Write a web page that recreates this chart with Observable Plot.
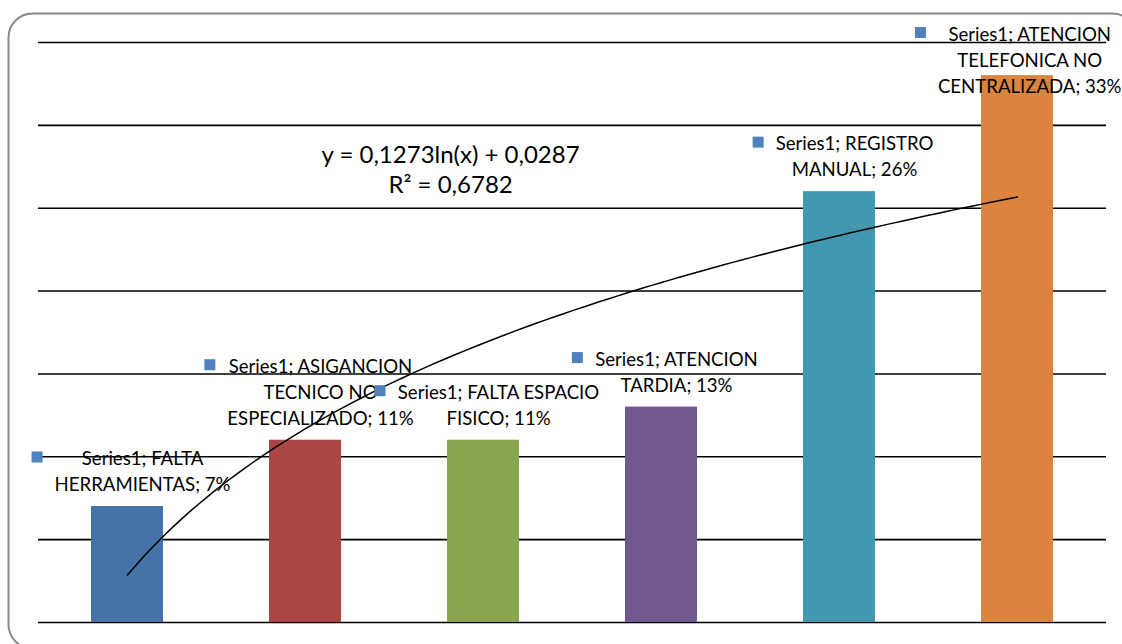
<!DOCTYPE html>
<html>
<head>
<meta charset="utf-8">
<script src="https://cdn.jsdelivr.net/npm/d3@7"></script>
<script src="https://cdn.jsdelivr.net/npm/@observablehq/plot@0.6"></script>
<style>
  html, body { margin: 0; padding: 0; background: #fff; }
  #chart { width: 1122px; height: 644px; overflow: hidden; }
  #chart svg { display: block; }
</style>
</head>
<body>
<div id="chart"></div>
<script>
// ---- data ----
const seriesName = "Series1";
const categories = [
  "FALTA HERRAMIENTAS",
  "ASIGANCION TECNICO NO ESPECIALIZADO",
  "FALTA ESPACIO FISICO",
  "ATENCION TARDIA",
  "REGISTRO MANUAL",
  "ATENCION TELEFONICA NO CENTRALIZADA"
];
const shares = [0.07, 0.11, 0.11, 0.13, 0.26, 0.33];
const gridTicks = [0, 0.05, 0.10, 0.15, 0.20, 0.25, 0.30, 0.35];
// logarithmic trendline fitted over the category index (1..6)
const trendA = 0.1273;
const trendB = 0.0287;
const trendR2 = 0.6782;

// ---- styling ----
const barColors = ["#4572A7", "#AA4643", "#89A54E", "#71588F", "#4198AF", "#DB843D"];
const markerColor = "#4F81BD";
const FONT = "Lato, 'Open Sans', sans-serif";
const LABEL_SIZE = 18.6;
const LABEL_LINE = 26;      // px between label lines
const EQ_SIZE = 24;
const EQ_LINE = 30;

const W = 1122, H = 644;
const M = {top: 42, right: 16, bottom: 22, left: 38};
const halfBar = 0.2022;     // half of the bar width, in category units

const rows = categories.map((name, i) => ({
  i: i + 1,
  name,
  value: shares[i],
  color: barColors[i]
}));

// text measurement for wrapping the data labels
const ctx = document.createElement("canvas").getContext("2d");
ctx.font = `${LABEL_SIZE}px Lato`;
const measure = s => ctx.measureText(s).width;
function wrap(str, maxW) {
  const words = str.split(" ");
  const lines = [];
  let cur = "";
  for (const w of words) {
    const test = cur ? cur + " " + w : w;
    if (cur && measure(test) > maxW) { lines.push(cur); cur = w; }
    else cur = test;
  }
  if (cur) lines.push(cur);
  return lines;
}
const pct = d3.format(".0%");
const labelMaxW = 11.6 * LABEL_SIZE;

const xScale = Plot.scale({x: {domain: [0.5, 6.5], range: [M.left, W - M.right]}});
const yScale = Plot.scale({y: {domain: [0, 0.35], range: [H - M.bottom, M.top]}});
const firstLineMin = 32;    // labels are kept inside the chart area
const rightLimit = W - 1;

const labels = rows.map(d => {
  const lines = wrap(`${seriesName}; ${d.name}; ${pct(d.value)}`, labelMaxW);
  const top = yScale.apply(d.value);
  const lastCenter = top - 23.5;
  let firstCenter = lastCenter - (lines.length - 1) * LABEL_LINE;
  firstCenter += Math.max(0, firstLineMin - firstCenter);
  const blockW = d3.max(lines, measure);
  const cx = xScale.apply(d.i);
  const shiftX = Math.min(15, rightLimit - (cx + blockW / 2));
  return {...d, text: lines.join("\n"), lines, firstCenter, top, blockW, shiftX};
});

// trendline curve sampled along the category index
const trend = d3.range(1, 6.0001, 0.05).map(x => ({x, y: trendA * Math.log(x) + trendB}));
const dec = v => String(v).replace(".", ",");
const eqText = `y = ${dec(trendA)}ln(x) + ${dec(trendB)}\nR² = ${dec(trendR2)}`;

// data labels: a centered block of wrapped lines, nudged right of the bar center
const textMarks = labels.map(d => {
  const n = d.lines.length;
  const dy = (d.firstCenter - d.top) + (n - 1) * LABEL_LINE / 2;
  return Plot.text([d], {
    x: "i", y: "value", text: "text",
    dx: d.shiftX, dy,
    lineAnchor: "middle",
    lineHeight: LABEL_LINE / LABEL_SIZE,
    fontSize: LABEL_SIZE, fill: "#000"
  });
});

// legend key square at the left of each label block, level with its first line
const markerMarks = labels.map(d => Plot.dot([d], {
  x: "i", y: "value",
  dx: d.shiftX - d.blockW / 2 - 12 - 5.5,
  dy: d.firstCenter - d.top,
  symbol: "square", r: 11 / Math.sqrt(Math.PI),
  fill: markerColor, stroke: "none"
}));

const chart = Plot.plot({
  width: W, height: H,
  marginTop: M.top, marginRight: M.right, marginBottom: M.bottom, marginLeft: M.left,
  style: {fontFamily: FONT, background: "#fff", overflow: "hidden"},
  x: {domain: [0.5, 6.5], axis: null},
  y: {domain: [0, 0.35], axis: null},
  marks: [
    Plot.frame({
      rx: 24, stroke: "#8a8a8a", strokeWidth: 2, fill: "none",
      insetLeft: -30, insetTop: -29, insetRight: -30, insetBottom: -26
    }),
    Plot.ruleY(gridTicks, {stroke: "#000", strokeWidth: 1.6}),
    Plot.rectY(rows, {
      x1: d => d.i - halfBar, x2: d => d.i + halfBar,
      y1: 0, y2: "value", fill: d => d.color
    }),
    Plot.line(trend, {x: "x", y: "y", stroke: "#000", strokeWidth: 1.5, curve: "linear"}),
    Plot.text([eqText], {
      x: 2.815, y: 0.274, text: d => d,
      lineAnchor: "middle", lineHeight: EQ_LINE / EQ_SIZE,
      fontSize: EQ_SIZE, fill: "#000"
    }),
    ...textMarks,
    ...markerMarks
  ]
});

document.getElementById("chart").appendChild(chart);
</script>
</body>
</html>
